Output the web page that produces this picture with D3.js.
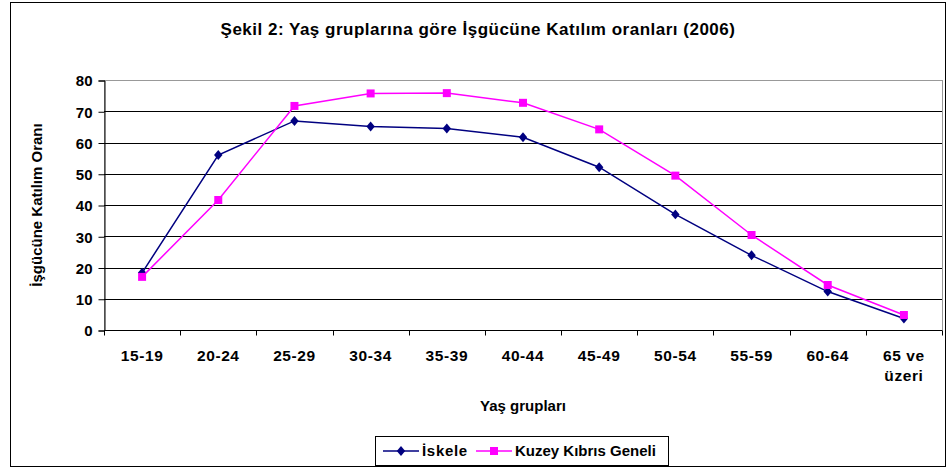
<!DOCTYPE html>
<meta charset="utf-8">
<style>

body {
  margin: 0;
  background: #fff;
}

text {
  font-family: "Liberation Sans", Arial, sans-serif;
  font-weight: bold;
  fill: #000;
}

</style>
<svg width="947" height="472"></svg>
<script src="https://d3js.org/d3.v7.min.js"></script>
<script>

var categories = ["15-19", "20-24", "25-29", "30-34", "35-39", "40-44", "45-49", "50-54", "55-59", "60-64", "65 ve|üzeri"];
var iskele = [18.3, 56, 66.9, 65.1, 64.5, 61.7, 52.1, 37, 23.9, 12.3, 3.7];
var kuzey = [17, 41.6, 71.7, 75.7, 75.8, 72.7, 64.2, 49.4, 30.4, 14.4, 4.8];
var yTicks = [0, 10, 20, 30, 40, 50, 60, 70, 80];

// Excel style diamond: a bit narrower than tall
var diamond = {
  draw: function(context, size) {
    var h = Math.sqrt(size) * 0.62, w = h * 0.85;
    context.moveTo(0, -h);
    context.lineTo(w, 0);
    context.lineTo(0, h);
    context.lineTo(-w, 0);
    context.closePath();
  }
};

var series = [
  {name: "İskele", values: iskele, color: "#000080", symbol: diamond, size: 64, spacing: 0.7},
  {name: "Kuzey Kıbrıs Geneli", values: kuzey, color: "#ff00ff", symbol: d3.symbolSquare, size: 64, spacing: 0}
];

var svg = d3.select("svg");

// chart frame
svg.append("rect")
    .attr("x", 10.5).attr("y", 2.5)
    .attr("width", 935).attr("height", 464)
    .attr("fill", "#fff")
    .attr("stroke", "#000")
    .attr("stroke-width", 1);

var plotLeft = 104, plotRight = 942, plotTop = 80, plotBottom = 330;

var x = d3.scaleBand()
    .domain(categories)
    .range([plotLeft, plotRight]);

var y = d3.scaleLinear()
    .domain([0, 80])
    .range([plotBottom, plotTop]);

// plot area border (grey)
svg.append("rect")
    .attr("x", plotLeft + 0.5).attr("y", plotTop + 0.5)
    .attr("width", plotRight - plotLeft).attr("height", plotBottom - plotTop)
    .attr("fill", "none")
    .attr("stroke", "#999");

// gridlines
svg.append("g")
    .selectAll("line")
    .data(yTicks.filter(function(d) { return d > 0 && d < 80; }))
  .join("line")
    .attr("x1", plotLeft).attr("x2", plotRight)
    .attr("y1", function(d) { return Math.round(y(d)) + 0.5; })
    .attr("y2", function(d) { return Math.round(y(d)) + 0.5; })
    .attr("stroke", "#000");

// y axis
var yAxis = svg.append("g")
    .attr("transform", "translate(" + (plotLeft + 0.5) + ",0.5)")
    .call(d3.axisLeft(y).tickValues(yTicks).tickSize(6).tickPadding(6));
yAxis.selectAll("text")
    .attr("font-size", 15)
    .attr("dy", "0.35em")
    .style("font-family", "'Liberation Sans', Arial, sans-serif")
    .style("font-weight", "bold")
    .style("fill", "#000");
yAxis.selectAll("line, path").attr("stroke", "#000");

// x axis
var xAxis = svg.append("g")
    .attr("transform", "translate(0," + (plotBottom + 0.5) + ")");
xAxis.append("line")
    .attr("x1", plotLeft).attr("x2", plotRight)
    .attr("stroke", "#000");
xAxis.selectAll("line.tick")
    .data(categories.concat([null]))
  .join("line")
    .attr("class", "tick")
    .attr("x1", function(d, i) { return Math.round(plotLeft + i * x.step()) + 0.5; })
    .attr("x2", function(d, i) { return Math.round(plotLeft + i * x.step()) + 0.5; })
    .attr("y1", 0).attr("y2", 5)
    .attr("stroke", "#000");
xAxis.selectAll("text")
    .data(categories)
  .join("text")
    .attr("text-anchor", "middle")
    .attr("font-size", 15.5)
    .attr("letter-spacing", 0.6)
    .attr("transform", function(d) { return "translate(" + (x(d) + x.bandwidth() / 2) + ",30)"; })
    .selectAll("tspan")
    .data(function(d) { return d.split("|"); })
  .join("tspan")
    .attr("x", 0)
    .attr("dy", function(d, i) { return i ? 20 : 0; })
    .text(function(d) { return d; });

// lines and markers
var line = d3.line()
    .x(function(d, i) { return x(categories[i]) + x.bandwidth() / 2; })
    .y(function(d) { return y(d); });

series.forEach(function(s) {
  svg.append("path")
      .attr("d", line(s.values))
      .attr("fill", "none")
      .attr("stroke", s.color)
      .attr("stroke-width", 1.5);
  svg.append("g")
      .selectAll("path")
      .data(s.values)
    .join("path")
      .attr("transform", function(d, i) { return "translate(" + (x(categories[i]) + x.bandwidth() / 2) + "," + y(d) + ")"; })
      .attr("d", d3.symbol().type(s.symbol).size(s.size))
      .attr("fill", s.color);
});

// title
svg.append("text")
    .attr("x", 478).attr("y", 35)
    .attr("text-anchor", "middle")
    .attr("font-size", 17)
    .attr("letter-spacing", 0.5)
    .text("Şekil 2: Yaş gruplarına göre İşgücüne Katılım oranları (2006)");

// axis titles
svg.append("text")
    .attr("transform", "translate(42," + ((plotTop + plotBottom) / 2) + ") rotate(-90)")
    .attr("text-anchor", "middle")
    .attr("font-size", 15)
    .text("İşgücüne Katılım Oranı");

svg.append("text")
    .attr("x", (plotLeft + plotRight) / 2).attr("y", 411)
    .attr("text-anchor", "middle")
    .attr("font-size", 15)
    .text("Yaş grupları");

// legend
var legend = svg.append("g");
legend.append("rect")
    .attr("x", 375.5).attr("y", 436.5)
    .attr("width", 293).attr("height", 29)
    .attr("fill", "#fff")
    .attr("stroke", "#000");

var legendX = [383, 476];
series.forEach(function(s, i) {
  var g = legend.append("g").attr("transform", "translate(" + legendX[i] + ",451)");
  g.append("line")
      .attr("x1", 0).attr("x2", 36)
      .attr("stroke", s.color)
      .attr("stroke-width", 1.5);
  g.append("path")
      .attr("transform", "translate(18,0)")
      .attr("d", d3.symbol().type(s.symbol).size(s.size))
      .attr("fill", s.color);
  g.append("text")
      .attr("x", 39).attr("y", 5)
      .attr("font-size", 15)
      .attr("letter-spacing", s.spacing)
      .text(s.name);
});

</script>
